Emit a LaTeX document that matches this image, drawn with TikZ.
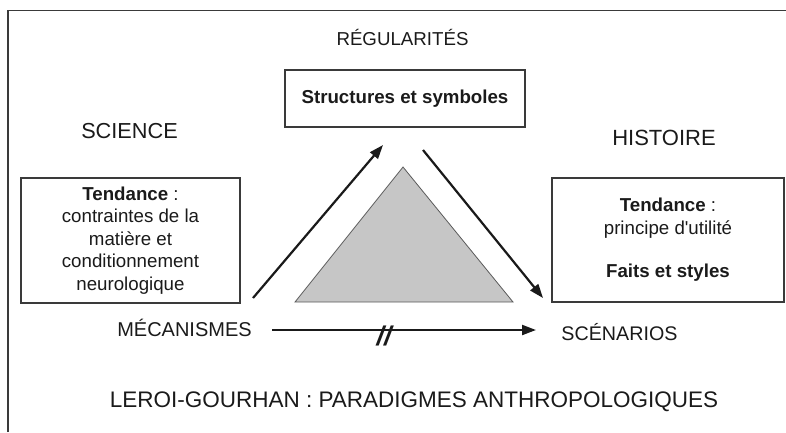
\documentclass[tikz,border=0pt]{standalone}
\usepackage{fontspec}
\setmainfont{Liberation Sans}[Ligatures=TeXOff]
\usetikzlibrary{arrows.meta}
\definecolor{ink}{HTML}{1A1A1A}
\definecolor{boxline}{HTML}{3A3A3A}
\definecolor{trifill}{HTML}{C6C6C6}
\definecolor{triline}{HTML}{5A5A5A}
\tikzset{
  lbl/.style={anchor=base, inner sep=0pt, text=ink, font=\fontsize{21}{25}\selectfont},
  txtbox/.style={draw=boxline, line width=1.1pt, align=center, inner sep=0pt, text=ink,
    font=\fontsize{18.7}{22.6}\selectfont},
  bigarrow/.style={line width=2.2pt, draw=ink, -{Triangle[length=14pt,width=10pt]}},
}
\begin{document}
\begin{tikzpicture}[x=1pt,y=-1pt]
\useasboundingbox (0,0) rectangle (786,432);
% frame (top and left edges)
\draw[boxline, line width=1.4pt] (8,432) -- (8,10.5) -- (786,10.5);

% labels
\node[lbl, font=\fontsize{18.7}{22}\selectfont] (reg) at (402.5,45) {RÉGULARITÉS};
\node[lbl, font=\fontsize{21.7}{25}\selectfont] (sci) at (129.5,138) {SCIENCE};
\node[lbl, font=\fontsize{22}{26}\selectfont] (his) at (664,145) {HISTOIRE};
\node[lbl, font=\fontsize{20}{24}\selectfont] (meca) at (184.5,336.5) {MÉCANISMES};
\node[lbl, font=\fontsize{19.7}{24}\selectfont] (scen) at (619.5,340) {SCÉNARIOS};
\node[lbl, font=\fontsize{22.5}{26}\selectfont] (title) at (414,407) {LEROI-GOURHAN : PARADIGMES ANTHROPOLOGIQUES};

% boxes
\node[txtbox, minimum width=240pt, minimum height=57pt] (struct) at (405,98.5)
  {\textbf{Structures et symboles}};
\node[txtbox, minimum width=219pt, minimum height=125pt] (left) at (130.5,240.5)
  {\textbf{Tendance} :\\contraintes de la\\matière et\\conditionnement\\neurologique};
\node[txtbox, minimum width=232pt, minimum height=124pt] (right) at (668,240)
  {\textbf{Tendance} :\\principe d'utilité\\[21pt]\textbf{Faits et styles}};

% triangle
\coordinate (apex) at (403,167);
\coordinate (bl) at (295,302);
\coordinate (br) at (513,302);
\filldraw[fill=trifill, draw=triline, line width=0.8pt] (apex) -- (bl) -- (br) -- cycle;

% arrows
\coordinate (a1s) at (253,298);
\coordinate (a1e) at (383,145);
\coordinate (a2s) at (423,150);
\coordinate (a2e) at (543,298);
\coordinate (a3s) at (272,330);
\coordinate (a3e) at (536,330);
\draw[bigarrow] (a1s) -- (a1e);
\draw[bigarrow] (a2s) -- (a2e);
\draw[bigarrow] (a3s) -- (a3e);
\node[inner sep=0pt, text=ink, font=\fontsize{27}{30}\selectfont\bfseries\itshape] (brk) at (384,335.5) {//};
\end{tikzpicture}
\end{document}
